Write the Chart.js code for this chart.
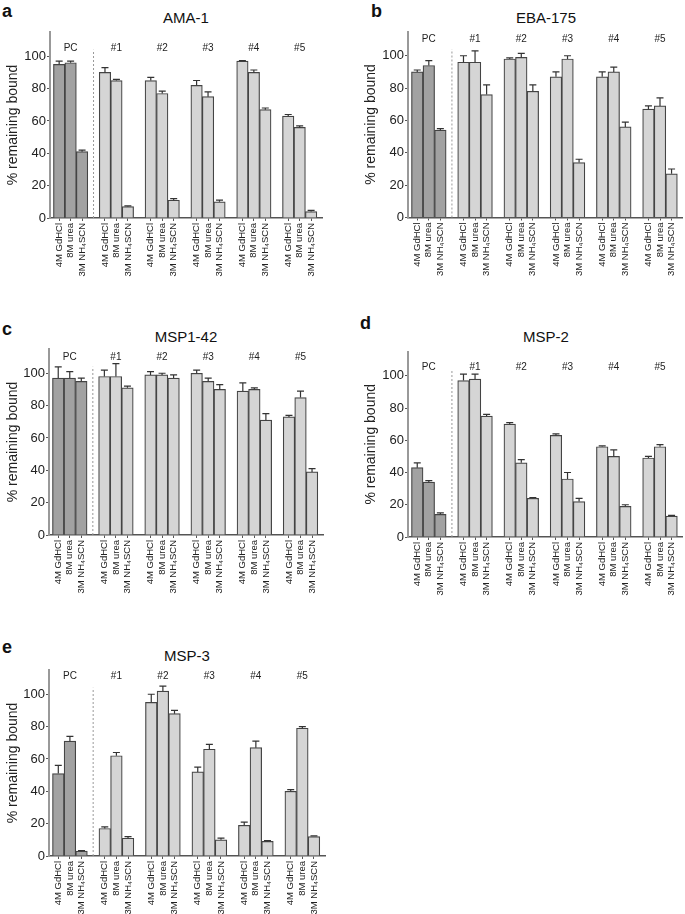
<!DOCTYPE html>
<html>
<head>
<meta charset="utf-8">
<script src="https://cdn.jsdelivr.net/npm/chart.js@4.4.0/dist/chart.umd.min.js"></script>
<style>
  body { margin: 0; background: #fff; width: 685px; height: 914px; position: relative; overflow: hidden;
         font-family: "Liberation Sans", Arial, sans-serif; color: #111; }
  canvas { position: absolute; }
  .letter { position: absolute; font-weight: bold; font-size: 18px; line-height: 18px; }
  .title { position: absolute; font-size: 15px; line-height: 18px; text-align: center; }
</style>
</head>
<body>
<script>
const groups = ['PC', '#1', '#2', '#3', '#4', '#5'];
const conditions = ['4M GdHCl', '8M urea', '3M NH₄SCN'];

// % remaining bound, 3 conditions per group (PC, #1..#5)
const ama1 = [95, 96, 41, 90, 85, 7, 85, 77, 11, 82, 75, 10, 97, 90, 67, 63, 56, 4];
const ama1Err = [2, 1, 1, 3, 0.7, 0.5, 2, 1.4, 1, 3, 3, 1, 0.3, 1.5, 1, 1, 1, 0.7];

const eba175 = [90, 94, 54, 96, 96, 76, 98, 99, 78, 87, 98, 34, 87, 90, 56, 67, 69, 27];
const eba175Err = [1.2, 3, 1, 4, 7, 6, 0.7, 2.5, 4, 3, 2, 2, 3, 3, 3, 2, 5, 3];

const msp142 = [97, 97, 95, 98, 98, 91, 99, 99, 97, 100, 95, 90, 89, 90, 71, 73, 85, 39];
const msp142Err = [7, 4, 2, 4, 8, 1, 2, 1, 2, 2, 2, 3, 5, 1, 4, 1, 4, 2];

const msp2 = [43, 34, 14, 97, 98, 75, 70, 46, 24, 63, 36, 22, 56, 50, 19, 49, 56, 13];
const msp2Err = [3, 1, 1, 4, 3, 1, 1, 2, 0.5, 1, 4, 2, 0.5, 4, 1, 1, 1.3, 0.4];

const msp3 = [51, 71, 3, 17, 62, 11, 95, 102, 88, 52, 66, 10, 19, 67, 9, 40, 79, 12];
const msp3Err = [5, 3, 0.4, 1, 2, 1, 5, 3, 2, 3, 3, 1, 2, 4, 0.5, 1, 1, 0.5];

const yTicks = [0, 20, 40, 60, 80, 100];

Chart.defaults.font.family = '"Liberation Sans", Arial, sans-serif';
Chart.defaults.color = '#222';

// one empty slot between groups
function toSlots(arr) {
    const out = [];
    groups.forEach((g, i) => {
        if (i > 0) out.push(null);
        out.push(...arr.slice(i * 3, i * 3 + 3));
    });
    return out;
}

const slotLabels = [];
groups.forEach((g, i) => {
    if (i > 0) slotLabels.push('');
    slotLabels.push(...conditions);
});

const extras = {
    id: 'extras',
    afterDatasetsDraw(chart, args, opts) {
        const ctx = chart.ctx;
        const x = chart.scales.x, y = chart.scales.y;
        const ds = chart.data.datasets[0];
        const meta = chart.getDatasetMeta(0);
        ctx.save();
        ctx.strokeStyle = '#333';
        ctx.lineWidth = 1.2;
        ds.data.forEach((v, i) => {
            if (v === null) return;
            const bar = meta.data[i];
            const top = y.getPixelForValue(v + ds.errors[i]);
            ctx.beginPath();
            ctx.moveTo(bar.x, bar.y);
            ctx.lineTo(bar.x, top);
            ctx.moveTo(bar.x - 3.5, top);
            ctx.lineTo(bar.x + 3.5, top);
            ctx.stroke();
        });
        // dashed separator after PC
        const sx = x.getPixelForValue(3);
        ctx.strokeStyle = '#999';
        ctx.lineWidth = 1;
        ctx.setLineDash([2, 2]);
        ctx.beginPath();
        ctx.moveTo(sx, y.getPixelForValue(0));
        ctx.lineTo(sx, y.getPixelForValue(104));
        ctx.stroke();
        ctx.setLineDash([]);
        // group names
        ctx.fillStyle = '#222';
        ctx.font = '10px "Liberation Sans", Arial, sans-serif';
        ctx.textAlign = 'center';
        ctx.textBaseline = 'middle';
        groups.forEach((g, i) => {
            ctx.fillText(g, x.getPixelForValue(i * 4 + 1), y.getPixelForValue(opts.labelY));
        });
        ctx.restore();
    }
};

function makePanel(p) {
    const letter = document.createElement('div');
    letter.className = 'letter';
    letter.textContent = p.letter;
    letter.style.left = p.letterX + 'px';
    letter.style.top = p.letterY + 'px';
    document.body.appendChild(letter);

    const title = document.createElement('div');
    title.className = 'title';
    title.textContent = p.title;
    title.style.left = (p.left + p.axisW) + 'px';
    title.style.width = (p.w - p.axisW - p.padRight) + 'px';
    title.style.top = p.titleY + 'px';
    document.body.appendChild(title);

    const canvas = document.createElement('canvas');
    canvas.width = p.w;
    canvas.height = p.h;
    canvas.style.left = p.left + 'px';
    canvas.style.top = p.top + 'px';
    document.body.appendChild(canvas);

    const values = toSlots(p.values);
    new Chart(canvas.getContext('2d'), {
        type: 'bar',
        data: {
            labels: slotLabels,
            datasets: [{
                data: values,
                errors: toSlots(p.errors),
                backgroundColor: values.map((v, i) => i < 3 ? '#a2a2a2' : '#d5d5d5'),
                borderColor: '#444',
                borderWidth: 1.2,
                barPercentage: 1,
                categoryPercentage: 1
            }]
        },
        options: {
            responsive: false,
            animation: false,
            layout: { padding: { top: p.plotTop, right: p.padRight, left: 0, bottom: 0 } },
            plugins: {
                legend: { display: false },
                tooltip: { enabled: false },
                extras: { labelY: p.labelY }
            },
            scales: {
                x: {
                    offset: true,
                    grid: {
                        offset: false,
                        drawOnChartArea: false,
                        tickLength: 3,
                        color: c => slotLabels[c.index] ? '#555' : 'rgba(0,0,0,0)'
                    },
                    border: { color: '#555', width: 1.5 },
                    ticks: {
                        autoSkip: false,
                        minRotation: 90,
                        maxRotation: 90,
                        padding: 2,
                        font: { size: 9.5 },
                        color: '#222'
                    },
                    afterBuildTicks: s => {
                        s._startValue -= 0.3;
                        s._valueRange += 0.75;
                    },
                    afterFit: s => { s.height = p.h - p.plotBottom; }
                },
                y: {
                    min: 0,
                    max: 115,
                    grid: { drawOnChartArea: false, tickLength: 3, color: '#555' },
                    border: { color: '#999', width: 2 },
                    ticks: {
                        stepSize: 20,
                        includeBounds: false,
                        padding: 1,
                        font: { size: 13 },
                        color: '#222'
                    },
                    afterBuildTicks: s => { s.ticks = yTicks.map(v => ({ value: v })); },
                    title: {
                        display: true,
                        text: '% remaining bound',
                        font: { size: 14 },
                        color: '#222',
                        padding: { top: 5, bottom: 0 }
                    },
                    afterFit: s => { s.width = p.axisW; }
                }
            }
        },
        plugins: [extras]
    });
}

makePanel({ letter: 'a', title: 'AMA-1', values: ama1, errors: ama1Err,
    left: 0, top: 0, w: 340, h: 290, axisW: 50, padRight: 18, plotTop: 32, plotBottom: 218,
    labelY: 105, letterX: 2, letterY: 2, titleY: 9 });
makePanel({ letter: 'b', title: 'EBA-175', values: eba175, errors: eba175Err,
    left: 358, top: 0, w: 327, h: 290, axisW: 50, padRight: 1, plotTop: 31.5, plotBottom: 217.5,
    labelY: 110, letterX: 371, letterY: 2, titleY: 9 });
makePanel({ letter: 'c', title: 'MSP1-42', values: msp142, errors: msp142Err,
    left: 0, top: 300, w: 340, h: 300, axisW: 49, padRight: 17, plotTop: 49, plotBottom: 235,
    labelY: 110, letterX: 2, letterY: 320, titleY: 328 });
makePanel({ letter: 'd', title: 'MSP-2', values: msp2, errors: msp2Err,
    left: 358, top: 300, w: 327, h: 300, axisW: 50, padRight: 1, plotTop: 51.6, plotBottom: 237,
    labelY: 105.5, letterX: 360, letterY: 314, titleY: 328 });
makePanel({ letter: 'e', title: 'MSP-3', values: msp3, errors: msp3Err,
    left: 0, top: 600, w: 340, h: 314, axisW: 49, padRight: 15, plotTop: 70, plotBottom: 256,
    labelY: 111, letterX: 2, letterY: 638, titleY: 647 });
</script>
</body>
</html>
